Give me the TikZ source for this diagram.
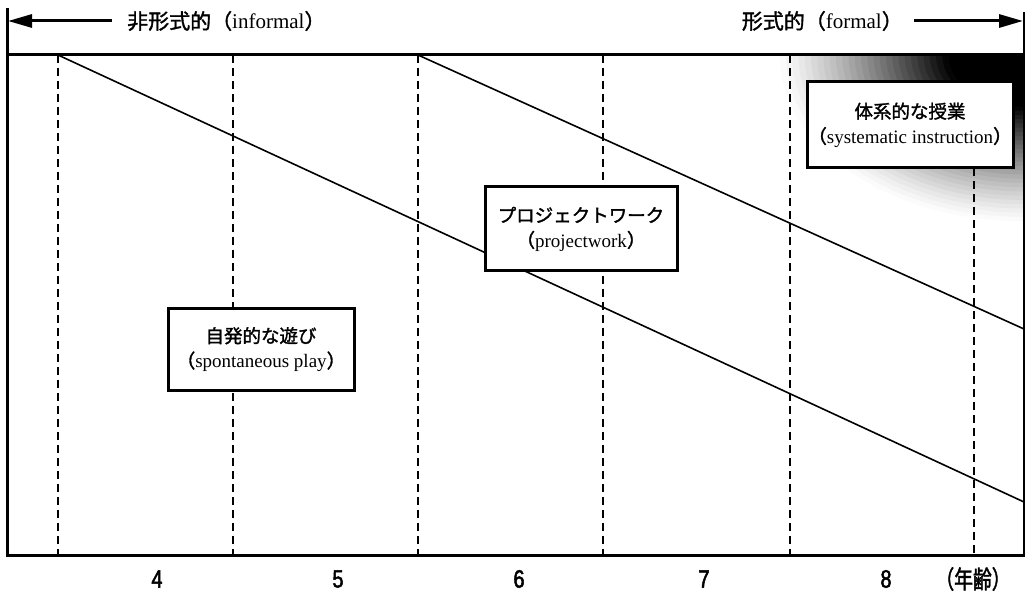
\documentclass[tikz,border=0pt]{standalone}
\usepackage{fontspec}
\setmainfont{Liberation Serif}
\newfontfamily\jp[FakeBold=1.6]{Noto Sans CJK JP}
\newfontfamily\num[FakeStretch=0.8,FakeBold=2]{Liberation Sans}
\newfontfamily\jpn[FakeStretch=0.75,FakeBold=1.6]{Noto Sans CJK JP}
\usetikzlibrary{arrows.meta}
\begin{document}
\begin{tikzpicture}[x=1pt,y=-1pt,
  frame/.style={line width=3pt, line join=miter},
  diag/.style={line width=1.6pt},
  dashline/.style={line width=2.7pt, dash pattern=on 8pt off 5pt},
  stage/.style={draw, line width=3pt, fill=white, inner sep=0pt, align=center,
                font=\fontsize{19}{25}\selectfont},
  axlabel/.style={font=\fontsize{21}{21}\selectfont, inner sep=0pt},
  age/.style={font=\num\fontsize{25}{25}\selectfont, inner sep=0pt},
  dir/.style={line width=3pt, -{Triangle[length=24pt,width=13pt]}}]
\useasboundingbox (0,0) rectangle (1025,593);

% shaded corner (formal zone)
\begin{scope}
  \clip (7,55) rectangle (1024,555);
  \foreach \k in {0,...,40} {
    \pgfmathsetmacro{\f}{1-\k/40}
    \pgfmathsetmacro{\d}{min(100,160*(1-\f)^1.25)}
    \pgfmathsetmacro{\rx}{250*\f+0.5}
    \pgfmathsetmacro{\ry}{170*\f+0.5}
    \fill[black!\d] (1024,55) ellipse [x radius=\rx pt, y radius=\ry pt];
  }
\end{scope}

% coordinates
\coordinate (Ltop) at (7,8);
\coordinate (Rtop) at (1024,12);
\coordinate (TL) at (7,55);
\coordinate (TR) at (1024,55);
\coordinate (BL) at (7,555);
\coordinate (BR) at (1024,555);
\foreach \x [count=\i] in {58,233,418,603,790,974} {
  \coordinate (dt\i) at (\x,55);
  \coordinate (db\i) at (\x,555);
}
\coordinate (ds6) at (974,168);
\coordinate (a1) at (58,55);
\coordinate (a2) at (1024,502);
\coordinate (b1) at (418,55);
\coordinate (b2) at (1024,329);

% dashed age borders
\foreach \i in {1,...,5} { \draw[dashline] (dt\i) -- (db\i); }
\draw[dashline] (ds6) -- (db6);

% diagonal boundaries
\draw[diag] (a1) -- (a2);
\draw[diag] (b1) -- (b2);

% frame
\draw[frame] (Ltop) -- (BL) -- (BR) -- (Rtop);
\draw[frame] (TL) -- (TR);

% stage boxes
\node[stage, minimum width=186pt, minimum height=81pt] (play) at (261,349.5)
  {{\jp\fontsize{18.5}{25}\selectfont 自発的な遊び}\\{\jp （}spontaneous play{\jp ）}};
\node[stage, minimum width=192pt, minimum height=84pt] (proj) at (581,229)
  {{\jp\fontsize{18.5}{25}\selectfont プロジェクトワーク}\\{\jp （}projectwork{\jp ）}};
\node[stage, minimum width=206pt, minimum height=86pt] (sys) at (910,125)
  {{\jp\fontsize{18.5}{25}\selectfont 体系的な授業}\\{\jp （}systematic instruction{\jp ）}};

% top direction labels
\node[axlabel, anchor=west] (inf) at (127,21) {{\jp 非形式的（}informal{\jp ）}};
\node[axlabel, anchor=east] (form) at (903,21) {{\jp 形式的（}formal{\jp ）}};
\coordinate (la) at (112,21);
\coordinate (lt) at (8,21);
\coordinate (ra) at (914,21);
\coordinate (rt) at (1023,21);
\draw[dir] (la) -- (lt);
\draw[dir] (ra) -- (rt);

% ages
\node[age] (n4) at (157,579) {4};
\node[age] (n5) at (338,579) {5};
\node[age] (n6) at (519,579) {6};
\node[age] (n7) at (704,579) {7};
\node[age] (n8) at (886,579) {8};
\node[inner sep=0pt, font=\jpn\fontsize{25}{25}\selectfont] (yr) at (973,579) {（年齢）};
\end{tikzpicture}
\end{document}
